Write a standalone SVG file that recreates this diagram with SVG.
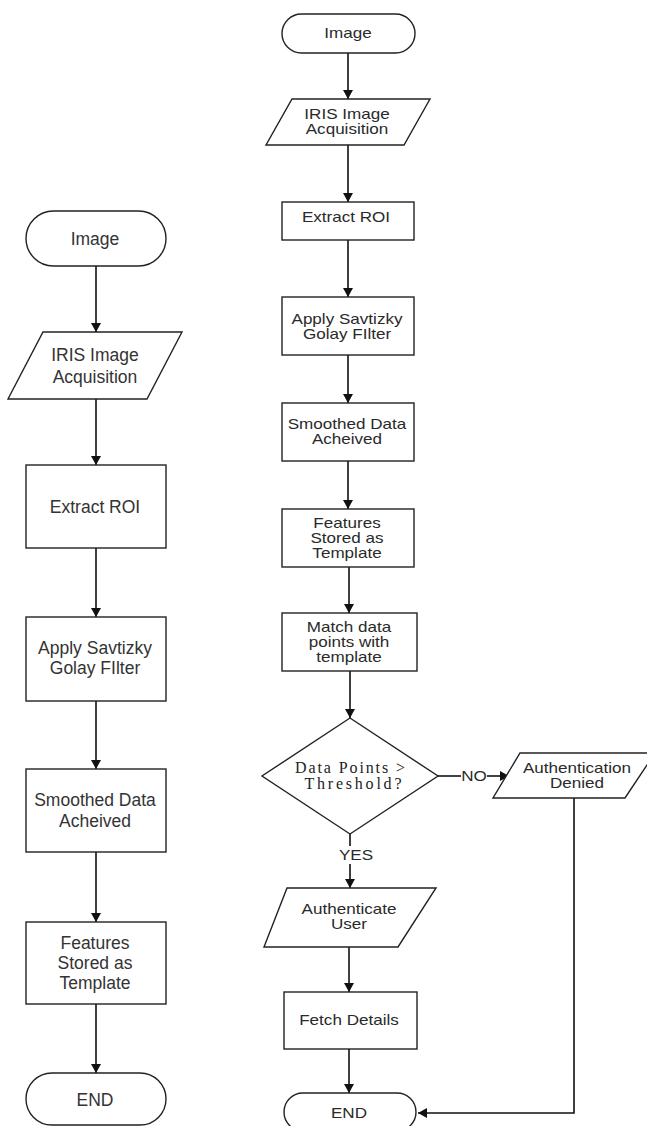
<svg xmlns="http://www.w3.org/2000/svg" width="647" height="1126" viewBox="0 0 647 1126">
<style>
.s{fill:#fff;stroke:#222;stroke-width:1.4}
.c{fill:none;stroke:#111;stroke-width:1.6}
.l{font-family:"Liberation Sans",Arial,sans-serif;font-size:17.5px;fill:#333;text-anchor:middle}
.r{font-family:"Liberation Sans",Arial,sans-serif;font-size:14px;fill:#2a2a2a;text-anchor:middle}
.t{font-family:"Liberation Serif","Times New Roman",serif;font-size:16px;fill:#222;text-anchor:middle}
</style>
<defs>
<marker id="ah" markerUnits="userSpaceOnUse" markerWidth="10" markerHeight="10" refX="9" refY="5" orient="auto">
<path d="M0,0 L9,5 L0,10 z" fill="#111"/>
</marker>
</defs>
<rect width="647" height="1126" fill="#fff"/>

<g id="connectors">
<path class="c" d="M96,266 V332" marker-end="url(#ah)"/>
<path class="c" d="M96,399 V465" marker-end="url(#ah)"/>
<path class="c" d="M96,548 V617" marker-end="url(#ah)"/>
<path class="c" d="M96,701 V769" marker-end="url(#ah)"/>
<path class="c" d="M96,852 V922" marker-end="url(#ah)"/>
<path class="c" d="M96,1004 V1073" marker-end="url(#ah)"/>
<path class="c" d="M348,53 V99" marker-end="url(#ah)"/>
<path class="c" d="M348,145 V202" marker-end="url(#ah)"/>
<path class="c" d="M348,240 V297" marker-end="url(#ah)"/>
<path class="c" d="M348,355 V403" marker-end="url(#ah)"/>
<path class="c" d="M348,461 V509" marker-end="url(#ah)"/>
<path class="c" d="M349,567 V613" marker-end="url(#ah)"/>
<path class="c" d="M350,671 V718" marker-end="url(#ah)"/>
<path class="c" d="M438,776 H461"/>
<path class="c" d="M487,776 H509" marker-end="url(#ah)"/>
<text class="r" transform="translate(474,0) scale(1.22,1)" x="0" y="781">NO</text>
<path class="c" d="M350,834 V846"/>
<path class="c" d="M350,864 V888" marker-end="url(#ah)"/>
<text class="r" transform="translate(356,0) scale(1.22,1)" x="0" y="860">YES</text>
<path class="c" d="M349,947 V992" marker-end="url(#ah)"/>
<path class="c" d="M349,1049 V1093" marker-end="url(#ah)"/>
<path class="c" d="M574,798 V1113 H418" marker-end="url(#ah)"/>
</g>

<g id="l-image"><rect class="s" x="26" y="211" width="140" height="55" rx="27.5"/><text class="l" x="95" y="245">Image</text></g>
<g id="l-iris"><polygon class="s" points="43,332 182,332 147,399 8,399"/><text class="l" x="95" y="361">IRIS Image</text><text class="l" x="95" y="383">Acquisition</text></g>
<g id="l-roi"><rect class="s" x="26" y="465" width="140" height="83"/><text class="l" x="95" y="513">Extract ROI</text></g>
<g id="l-filter"><rect class="s" x="26" y="617" width="140" height="84"/><text class="l" x="95" y="654">Apply Savtizky</text><text class="l" x="95" y="674">Golay FIlter</text></g>
<g id="l-smooth"><rect class="s" x="26" y="769" width="140" height="83"/><text class="l" x="95" y="806">Smoothed Data</text><text class="l" x="95" y="827">Acheived</text></g>
<g id="l-features"><rect class="s" x="26" y="922" width="140" height="82"/><text class="l" x="95" y="949">Features</text><text class="l" x="95" y="969">Stored as</text><text class="l" x="95" y="989">Template</text></g>
<g id="l-end"><rect class="s" x="26" y="1073" width="140" height="52" rx="26"/><text class="l" x="95" y="1106">END</text></g>

<g id="r-image"><rect class="s" x="282" y="14" width="133" height="39" rx="19.5"/><text class="r" transform="translate(348,0) scale(1.22,1)" x="0" y="38">Image</text></g>
<g id="r-iris"><polygon class="s" points="292,99 430,99 404,145 266,145"/><text class="r" transform="translate(347,0) scale(1.22,1)" y="119"><tspan x="0">IRIS Image</tspan><tspan x="0" y="134">Acquisition</tspan></text></g>
<g id="r-roi"><rect class="s" x="282" y="202" width="132" height="38"/><text class="r" transform="translate(346,0) scale(1.22,1)" x="0" y="222">Extract ROI</text></g>
<g id="r-filter"><rect class="s" x="282" y="297" width="132" height="58"/><text class="r" transform="translate(347,0) scale(1.22,1)" y="324"><tspan x="0">Apply Savtizky</tspan><tspan x="0" y="339">Golay FIlter</tspan></text></g>
<g id="r-smooth"><rect class="s" x="282" y="403" width="132" height="58"/><text class="r" transform="translate(347,0) scale(1.22,1)" y="429"><tspan x="0">Smoothed Data</tspan><tspan x="0" y="444">Acheived</tspan></text></g>
<g id="r-features"><rect class="s" x="282" y="509" width="132" height="58"/><text class="r" transform="translate(347,0) scale(1.22,1)" y="528"><tspan x="0">Features</tspan><tspan x="0" y="543">Stored as</tspan><tspan x="0" y="558">Template</tspan></text></g>
<g id="r-match"><rect class="s" x="282" y="613" width="135" height="58"/><text class="r" transform="translate(349,0) scale(1.22,1)" y="632"><tspan x="0">Match data</tspan><tspan x="0" y="647">points with</tspan><tspan x="0" y="662">template</tspan></text></g>
<g id="r-decision"><polygon class="s" points="350,718 438,776 350,834 262,776"/><text class="t" x="350" y="773" textLength="110">Data Points &gt;</text><text class="t" x="353" y="789" textLength="97">Threshold?</text></g>
<g id="r-denied"><polygon class="s" points="520,753 655,753 625,798 493,798"/><text class="r" transform="translate(577,0) scale(1.22,1)" y="773"><tspan x="0">Authentication</tspan><tspan x="0" y="788">Denied</tspan></text></g>
<g id="r-auth"><polygon class="s" points="287,888 436,888 398,947 264,947"/><text class="r" transform="translate(349,0) scale(1.22,1)" y="914"><tspan x="0">Authenticate</tspan><tspan x="0" y="929">User</tspan></text></g>
<g id="r-fetch"><rect class="s" x="284" y="992" width="133" height="57"/><text class="r" transform="translate(349,0) scale(1.22,1)" x="0" y="1025">Fetch Details</text></g>
<g id="r-end"><rect class="s" x="284" y="1093" width="132" height="38" rx="19"/><text class="r" transform="translate(349,0) scale(1.22,1)" x="0" y="1118">END</text></g>
</svg>
